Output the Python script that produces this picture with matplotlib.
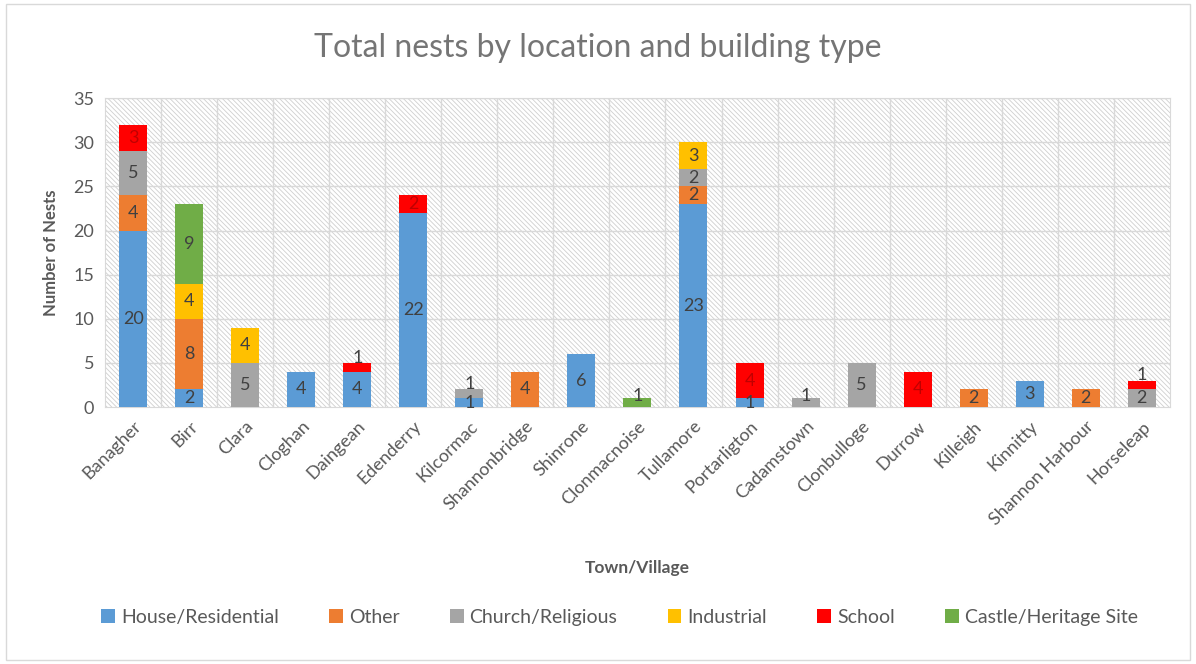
import matplotlib
matplotlib.use('Agg')
import matplotlib.pyplot as plt
from matplotlib.patches import Rectangle
import numpy as np

plt.rcParams['font.family'] = ['Lato', 'DejaVu Sans']
plt.rcParams['hatch.linewidth'] = 0.6
plt.rcParams['hatch.color'] = '#CFCFCF'

towns = ['Banagher', 'Birr', 'Clara', 'Cloghan', 'Daingean', 'Edenderry', 'Kilcormac',
         'Shannonbridge', 'Shinrone', 'Clonmacnoise', 'Tullamore', 'Portarligton',
         'Cadamstown', 'Clonbulloge', 'Durrow', 'Killeigh', 'Kinnitty',
         'Shannon Harbour', 'Horseleap']

house = [20, 2, 0, 4, 4, 22, 1, 0, 6, 0, 23, 1, 0, 0, 0, 0, 3, 0, 0]
other = [4, 8, 0, 0, 0, 0, 0, 4, 0, 0, 2, 0, 0, 0, 0, 2, 0, 2, 0]
church = [5, 0, 5, 0, 0, 0, 1, 0, 0, 0, 2, 0, 1, 5, 0, 0, 0, 0, 2]
industrial = [0, 4, 4, 0, 0, 0, 0, 0, 0, 0, 3, 0, 0, 0, 0, 0, 0, 0, 0]
school = [3, 0, 0, 0, 1, 2, 0, 0, 0, 0, 0, 4, 0, 0, 4, 0, 0, 0, 1]
castle = [0, 9, 0, 0, 0, 0, 0, 0, 0, 1, 0, 0, 0, 0, 0, 0, 0, 0, 0]

series = [
    ('House/Residential', house, '#5B9BD5', '#404040'),
    ('Other', other, '#ED7D31', '#404040'),
    ('Church/Religious', church, '#A5A5A5', '#404040'),
    ('Industrial', industrial, '#FFC000', '#404040'),
    ('School', school, '#FF0000', '#C00000'),
    ('Castle/Heritage Site', castle, '#70AD47', '#404040'),
]

fig = plt.figure(figsize=(11.96, 6.64), dpi=100)
ax = fig.add_axes([0.088, 0.387, 0.89, 0.465])

# chart border
fig.patches.append(Rectangle((0.005, 0.006), 0.99, 0.988, transform=fig.transFigure,
                             fill=False, edgecolor='#D9D9D9', linewidth=1))

# hatched plot background
ax.add_patch(Rectangle((0, 0), 1, 1, transform=ax.transAxes, facecolor='white',
                       hatch='\\' * 7, edgecolor='#CFCFCF', linewidth=0, zorder=0))

x = np.arange(len(towns))
totals = np.zeros(len(towns))
grand = np.sum([s[1] for s in series], axis=0)
for name, vals, color, lab_color in series:
    vals = np.array(vals, dtype=float)
    ax.bar(x, vals, 0.5, bottom=totals, color=color, label=name, zorder=3)
    for i, v in enumerate(vals):
        if v <= 0:
            continue
        top_seg = totals[i] + v == grand[i]
        if v == 1 and top_seg and totals[i] + v > 1:
            y = totals[i] + v + 0.6
            c = '#404040'
        elif v == 1 and top_seg:
            y = totals[i] + v + 0.2
            c = '#404040'
        else:
            y = totals[i] + v / 2
            c = lab_color
        ax.text(i, y, '%d' % v, ha='center', va='center', fontsize=13, color=c, zorder=4)
    totals += vals

ax.set_xlim(-0.5, len(towns) - 0.5)
ax.set_ylim(0, 35)
ax.set_yticks(range(0, 36, 5))
ax.set_xticks(x)
ax.set_xticklabels(towns, rotation=45, ha='right', rotation_mode='anchor',
                   fontsize=13, color='#595959')
ax.tick_params(axis='y', labelsize=13, labelcolor='#595959', length=0, pad=8)
ax.tick_params(axis='x', length=0, pad=8)

for yv in range(5, 36, 5):
    ax.axhline(yv, color='#D9D9D9', linewidth=1, zorder=1)
for xv in np.arange(0.5, len(towns) - 0.5, 1):
    ax.axvline(xv, color='#D9D9D9', linewidth=1, zorder=1)
for s in ax.spines.values():
    s.set_color('#D9D9D9')

ax.set_xlabel('Town/Village', fontsize=12.5, fontweight='bold', color='#595959', labelpad=23)
ax.set_ylabel('Number of Nests', fontsize=12, fontweight='bold', color='#595959', labelpad=10)
fig.suptitle('Total nests by location and building type', fontsize=23, color='#757575',
             y=0.95)

fig.legend(loc='center', bbox_to_anchor=(0.518, 0.07), ncol=6, frameon=False,
           fontsize=14, handlelength=0.7, handleheight=0.7, handletextpad=0.3,
           columnspacing=2.6, labelcolor='#595959')

fig.savefig('out.png', dpi=100)
